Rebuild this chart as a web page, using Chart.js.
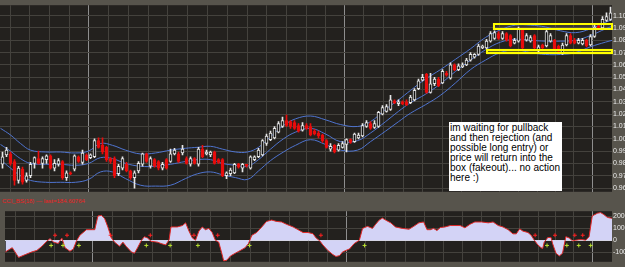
<!DOCTYPE html>
<html><head><meta charset="utf-8">
<script src="https://cdn.jsdelivr.net/npm/chart.js@4.4.1/dist/chart.umd.min.js"></script>
<style>
html,body{margin:0;padding:0;background:#57544c;width:625px;height:267px;overflow:hidden;position:relative;}
#c1{position:absolute;left:0;top:0;}
#c2{position:absolute;left:0;top:206px;}
#sepLabel{position:absolute;left:2px;top:197px;height:9px;font:6px 'Liberation Sans',Arial,sans-serif;color:#ee2222;line-height:9px;white-space:nowrap;}
#note{position:absolute;left:449px;top:122px;width:113px;height:69px;box-sizing:border-box;background:#fff;color:#000;font:10px 'Liberation Sans',Arial,sans-serif;line-height:10px;padding:1px 0 0 1px;white-space:pre;overflow:hidden;}
</style></head>
<body>
<canvas id="c1" width="625" height="197"></canvas>
<div id="sepLabel">CCI_BS(18) — last=184.60764</div>
<canvas id="c2" width="625" height="61"></canvas>
<div id="note">im waiting for pullback
and then rejection (and
possible long entry) or
price will return into the
box (fakeout)... no action
here :)</div>
<script>
// ---- price candles (bar index 0..152) ----
const open = [0.9793,0.9870,0.9877,0.9816,0.9662,0.9754,0.9662,0.9700,0.9800,0.9839,
0.9800,0.9831,0.9862,0.9762,0.9793,0.9816,0.9685,0.9723,0.9754,0.9854,
0.9808,0.9870,0.9847,0.9854,0.9985,0.9947,0.9931,0.9839,0.9839,0.9716,
0.9762,0.9793,0.9739,0.9685,0.9739,0.9793,0.9877,0.9777,0.9831,0.9816,
0.9762,0.9831,0.9816,0.9877,0.9877,0.9885,0.9839,0.9793,0.9839,0.9793,
0.9916,0.9877,0.9870,0.9893,0.9831,0.9831,0.9700,0.9716,0.9723,0.9793,
0.9762,0.9793,0.9762,0.9831,0.9854,0.9870,0.9962,0.9993,1.0008,1.0054,
1.0100,1.0147,1.0139,1.0131,1.0108,1.0070,1.0108,1.0100,1.0062,1.0047,
1.0031,0.9985,0.9916,0.9947,0.9908,0.9931,0.9954,0.9993,0.9977,1.0008,
1.0023,1.0100,1.0124,1.0093,1.0100,1.0200,1.0223,1.0239,1.0308,1.0285,
1.0300,1.0300,1.0293,1.0316,1.0408,1.0477,1.0523,1.0377,1.0447,1.0485,
1.0454,1.0531,1.0493,1.0600,1.0562,1.0585,1.0600,1.0639,1.0662,1.0685,
1.0739,1.0739,1.0793,1.0816,1.0854,1.0816,1.0854,1.0839,1.0777,1.0793,
1.0893,1.0800,1.0793,1.0839,1.0716,1.0762,1.0754,1.0793,1.0800,1.0754,
1.0700,1.0762,1.0839,1.0800,1.0777,1.0770,1.0800,1.0762,1.0831,1.0916,
1.0900,1.0962,1.0970];
const high = [0.9893,0.9931,0.9893,0.9831,0.9777,0.9770,0.9723,0.9808,0.9854,0.9900,
0.9854,0.9870,0.9870,0.9831,0.9839,0.9823,0.9739,0.9731,0.9870,0.9862,
0.9908,0.9877,0.9877,1.0000,1.0008,1.0008,0.9939,0.9847,0.9854,0.9793,
0.9854,0.9808,0.9747,0.9739,0.9816,0.9885,0.9885,0.9854,0.9839,0.9823,
0.9808,0.9839,0.9916,0.9923,0.9893,0.9947,0.9854,0.9854,0.9847,0.9931,
0.9947,0.9908,0.9900,0.9900,0.9839,0.9839,0.9731,0.9762,0.9800,0.9800,
0.9800,0.9793,0.9862,0.9862,0.9923,0.9993,1.0039,1.0062,1.0100,1.0139,
1.0177,1.0193,1.0147,1.0147,1.0124,1.0131,1.0124,1.0124,1.0077,1.0062,
1.0039,0.9993,0.9962,0.9954,0.9962,0.9977,1.0000,1.0000,1.0047,1.0047,
1.0124,1.0147,1.0139,1.0147,1.0223,1.0270,1.0277,1.0354,1.0316,1.0316,
1.0308,1.0316,1.0354,1.0408,1.0485,1.0523,1.0531,1.0531,1.0500,1.0500,
1.0562,1.0547,1.0616,1.0608,1.0608,1.0616,1.0654,1.0700,1.0693,1.0770,
1.0762,1.0808,1.0870,1.0877,1.0870,1.0870,1.0862,1.0847,1.0816,1.0908,
1.0900,1.0854,1.0839,1.0847,1.0762,1.0770,1.0885,1.0854,1.0808,1.0762,
1.0777,1.0854,1.0854,1.0816,1.0816,1.0816,1.0808,1.0847,1.0923,1.0931,
1.0993,1.1023,1.1070];
const low = [0.9762,0.9854,0.9785,0.9623,0.9639,0.9631,0.9647,0.9685,0.9762,0.9793,
0.9762,0.9800,0.9754,0.9739,0.9777,0.9670,0.9662,0.9708,0.9739,0.9808,
0.9793,0.9823,0.9839,0.9847,0.9923,0.9877,0.9816,0.9800,0.9685,0.9700,
0.9747,0.9731,0.9670,0.9600,0.9723,0.9777,0.9808,0.9762,0.9770,0.9747,
0.9747,0.9754,0.9808,0.9870,0.9808,0.9870,0.9793,0.9777,0.9793,0.9777,
0.9847,0.9870,0.9854,0.9793,0.9800,0.9693,0.9677,0.9700,0.9716,0.9762,
0.9731,0.9770,0.9754,0.9823,0.9847,0.9862,0.9947,0.9985,1.0000,1.0047,
1.0093,1.0100,1.0085,1.0077,1.0054,1.0062,1.0077,1.0023,1.0031,1.0008,
0.9970,0.9923,0.9900,0.9885,0.9900,0.9923,0.9893,0.9962,0.9970,1.0000,
1.0016,1.0093,1.0077,1.0085,1.0093,1.0193,1.0216,1.0231,1.0285,1.0270,
1.0277,1.0270,1.0285,1.0308,1.0400,1.0470,1.0370,1.0370,1.0431,1.0423,
1.0447,1.0508,1.0485,1.0554,1.0554,1.0577,1.0593,1.0631,1.0654,1.0677,
1.0731,1.0731,1.0785,1.0808,1.0808,1.0808,1.0793,1.0747,1.0770,1.0785,
1.0731,1.0793,1.0785,1.0731,1.0700,1.0731,1.0747,1.0785,1.0716,1.0700,
1.0685,1.0754,1.0770,1.0770,1.0770,1.0762,1.0747,1.0754,1.0823,1.0885,
1.0893,1.0954,1.0962];
const close = [0.9854,0.9908,0.9800,0.9662,0.9762,0.9647,0.9700,0.9793,0.9847,0.9800,
0.9839,0.9862,0.9762,0.9800,0.9823,0.9685,0.9723,0.9716,0.9862,0.9816,
0.9885,0.9831,0.9870,0.9985,0.9931,0.9893,0.9831,0.9816,0.9700,0.9777,
0.9839,0.9739,0.9685,0.9723,0.9800,0.9877,0.9816,0.9839,0.9777,0.9762,
0.9793,0.9762,0.9877,0.9908,0.9816,0.9916,0.9800,0.9839,0.9800,0.9916,
0.9854,0.9893,0.9893,0.9800,0.9808,0.9700,0.9723,0.9747,0.9793,0.9770,
0.9793,0.9777,0.9854,0.9854,0.9908,0.9985,1.0023,1.0047,1.0085,1.0124,
1.0147,1.0108,1.0100,1.0085,1.0062,1.0108,1.0085,1.0031,1.0039,1.0023,
0.9985,0.9931,0.9939,0.9893,0.9947,0.9962,0.9993,0.9970,1.0039,1.0031,
1.0108,1.0131,1.0085,1.0124,1.0216,1.0254,1.0262,1.0316,1.0293,1.0300,
1.0285,1.0277,1.0339,1.0393,1.0470,1.0500,1.0377,1.0447,1.0485,1.0431,
1.0547,1.0516,1.0600,1.0562,1.0593,1.0600,1.0639,1.0685,1.0685,1.0754,
1.0754,1.0793,1.0854,1.0862,1.0816,1.0854,1.0800,1.0754,1.0800,1.0893,
1.0739,1.0839,1.0823,1.0739,1.0747,1.0739,1.0870,1.0839,1.0723,1.0716,
1.0762,1.0839,1.0777,1.0777,1.0800,1.0800,1.0754,1.0831,1.0908,1.0893,
1.0970,1.0993,1.1023];

// ---- channel lines (read at sample bar positions) ----
const bandX = [-0.5,2,4.5,7,10.75,14.5,18.25,21.5,24.5,27.5,30.75,34.5,38.25,42,45.75,48.75,52,55,58.25,61.25,64,67,70.25,73.25,77,80.75,84.5,88.75,92,95.75,99,102,105.75,109.5,113.25,117,120.75,124.5,128.25,132,135.75,139.5,143.25,147,150.75,152.5];
const bandUpper = [1.0085,1.0031,0.9962,0.9908,0.9893,0.9893,0.9885,0.9900,0.9962,0.9947,0.9908,0.9877,0.9885,0.9908,0.9923,0.9931,0.9939,0.9916,0.9893,0.9893,0.9931,1.0016,1.0108,1.0162,1.0185,1.0154,1.0116,1.0100,1.0139,1.0239,1.0316,1.0393,1.0485,1.0562,1.0646,1.0731,1.0823,1.0885,1.0923,1.0923,1.0908,1.0877,1.0862,1.0893,1.0946,1.0970];
const bandMiddle = [0.9954,0.9900,0.9839,0.9800,0.9793,0.9793,0.9785,0.9800,0.9847,0.9839,0.9800,0.9777,0.9777,0.9793,0.9816,0.9831,0.9831,0.9800,0.9785,0.9777,0.9831,0.9916,1.0000,1.0054,1.0085,1.0039,0.9977,0.9985,1.0047,1.0139,1.0223,1.0293,1.0362,1.0447,1.0547,1.0639,1.0723,1.0785,1.0808,1.0800,1.0793,1.0793,1.0800,1.0839,1.0893,1.0916];
const bandLower = [0.9831,0.9762,0.9700,0.9662,0.9647,0.9647,0.9647,0.9670,0.9731,0.9731,0.9677,0.9623,0.9616,0.9623,0.9677,0.9716,0.9731,0.9708,0.9685,0.9670,0.9739,0.9823,0.9893,0.9947,0.9993,0.9954,0.9908,0.9908,0.9977,1.0062,1.0139,1.0208,1.0277,1.0354,1.0454,1.0562,1.0639,1.0700,1.0723,1.0700,1.0685,1.0685,1.0700,1.0747,1.0785,1.0800];

// ---- marked range boxes (bar index / price) ----
const boxX0 = [122.5, 121];
const boxX1 = [152.5, 152.5];
const boxTop = [1.0939, 1.0731];
const boxBottom = [1.0885, 1.0685];

// ---- CCI indicator (read at sample bar positions) ----
const cciX = [-0.5,1.2,2.8,4.5,6.2,7.4,8.7,9.9,10.75,11.6,12.8,13.7,14.5,15.75,16.6,17.4,18.25,19.9,21.2,22,22.8,23.7,24.5,25.3,26.2,27,28.25,29.1,29.9,31.2,32,32.8,33.7,34.5,35.3,36.2,37.8,38.7,39.9,40.75,41.2,42.8,44.1,44.9,45.75,46.6,47.4,48.25,49.1,49.9,50.75,51.6,52.4,53.25,54.1,54.5,55.3,56.2,57.4,58.7,59.9,60.75,61.6,62.8,64.1,65.3,66.6,67.8,69.1,70.3,72,73.25,74.5,75.75,77,77.8,78.7,79.5,80.75,82,82.8,83.7,84.5,85.3,86.2,87.4,88.7,89.5,90.75,92,92.8,93.7,94.5,95.3,96.6,97.8,99.5,101.2,102.4,103.7,104.9,105.75,106.6,107.4,108.25,109.1,110.3,111.6,112.8,114.1,115.3,116.6,117.8,119.5,121.2,122.4,123.7,124.9,126.2,127.4,128.25,129.1,129.9,131.2,132,132.8,133.7,134.5,134.9,135.3,136.2,137,137.4,138.25,139.1,139.9,140.75,141.6,142.4,143.25,144.1,144.9,145.75,146.6,147.4,148.7,149.5,150.3,151.2,152,152.4];
const cciValue = [-98,-63,-145,-121,-98,-86,-51,-9,14,-16,-28,19,-63,-93,-74,-5,42,89,89,89,205,210,182,112,19,-16,-51,-16,-51,-98,-110,-63,-5,30,19,-9,-16,-28,-40,5,112,112,124,147,77,19,0,77,112,89,100,65,0,-16,-121,-175,-168,-133,-110,-86,-63,-28,42,65,112,159,170,159,154,135,112,89,65,65,55,19,-5,-40,-86,-121,-137,-130,-98,-86,-74,-28,0,100,117,100,135,170,187,170,147,112,100,93,117,147,154,89,89,100,82,107,112,124,124,124,105,135,154,154,147,154,124,112,89,54,54,96,77,65,42,0,-40,-63,-70,-16,23,23,-28,-110,-133,-110,30,19,-5,0,5,5,0,30,205,228,233,217,193,187,185];
const signalRedX = [12,15,26,36,47,53,79,133,138,143,145];
const signalRedLevel = 42;
const signalGreenX = [11,14,18,35,41,48,61,90,136,141,144,147];
const signalGreenLevel = -44;

// ---- axis ticks ----
const priceTicks = [0.96,0.97,0.98,0.99,1.00,1.01,1.02,1.03,1.04,1.05,1.06,1.07,1.08,1.09,1.10];
const priceTickLabels = ['0.96','0.97','0.98','0.99','1.00','1.01','1.02','1.03','1.04','1.05','1.06','1.07','1.08','1.09','1.10'];
const cciTicks = [-100,0,100,200];
const cciTickLabels = ['-100','0','100','200'];
const timeGridX = [2,6.75,11.75,16.75,21.5,26.5,31.5,36.5,41.25,46.25,51.25,56.25,61.25,66,71,76,80.75,85.5,90.25,95.25,100.25,105,110,114.75,119.5,124.25,129,133.75,138.25,142.75,147.5];
const timeSeparatorX = [21.5,85.5,147.5];

// ---- layout constants ----
const X_MIN = -0.625, X_MAX = 152.375;
const PRICE_MIN = 0.95696, PRICE_MAX = 1.1085;
const CCI_MIN = -182, CCI_MAX = 245;
const BG = '#23211e', GRID = '#44423d', BRIGHT = '#8e8e8e';
const UP = '#e6e6e6', DOWN = '#e80c0c';

const bgPlugin = {id:'bg', beforeDraw(chart){const {ctx, chartArea:a}=chart; ctx.save(); ctx.fillStyle=BG; ctx.fillRect(a.left,a.top,a.right-a.left,a.bottom-a.top); ctx.restore();}};
const boxFills = ['rgba(140,140,120,0.22)','rgba(190,190,40,0.38)'];
const boxPlugin = {id:'boxes',
  beforeDatasetsDraw(chart){ const {ctx}=chart; const xs=chart.scales.x, ys=chart.scales.y;
    ctx.save();
    boxX0.forEach((x0,i)=>{ const l=xs.getPixelForValue(x0), r=xs.getPixelForValue(boxX1[i]);
      const t=ys.getPixelForValue(boxTop[i]), b=ys.getPixelForValue(boxBottom[i]);
      ctx.fillStyle=boxFills[i]; ctx.fillRect(l,t,r-l,b-t); });
    ctx.restore(); },
  afterDatasetsDraw(chart){ const {ctx}=chart; const xs=chart.scales.x, ys=chart.scales.y;
    ctx.save(); ctx.strokeStyle='#ffff00'; ctx.lineWidth=2;
    boxX0.forEach((x0,i)=>{ const l=Math.round(xs.getPixelForValue(x0)), r=Math.round(xs.getPixelForValue(boxX1[i]));
      const t=Math.round(ys.getPixelForValue(boxTop[i])), b=Math.round(ys.getPixelForValue(boxBottom[i]));
      ctx.strokeRect(l+1,t+1,r-l-2,b-t-2); });
    ctx.restore(); }
};

function xScale(){
  return {type:'linear', min:X_MIN, max:X_MAX, offset:false, bounds:'ticks',
    grid:{color:(c)=> (c.tick && timeSeparatorX.includes(c.tick.value)) ? BRIGHT : GRID, drawTicks:false, lineWidth:1, offset:false},
    border:{display:false}, ticks:{display:false},
    afterBuildTicks:(s)=>{ s.ticks = timeGridX.map(v=>({value:v})); },
    afterFit:(s)=>{ s.height = 0; }};
}

const bars = open.map((_, i) => i);
const up = bars.map(i => close[i] >= open[i]);

new Chart(document.getElementById('c1'), {
  type:'bar',
  data:{datasets:[
    {type:'line', data: bandX.map((x,i)=>({x, y: bandUpper[i]})), borderColor:'#4f74cf', borderWidth:1, pointRadius:0, tension:0.4, order:3},
    {type:'line', data: bandX.map((x,i)=>({x, y: bandMiddle[i]})), borderColor:'#4f74cf', borderWidth:1, pointRadius:0, tension:0.4, order:3},
    {type:'line', data: bandX.map((x,i)=>({x, y: bandLower[i]})), borderColor:'#4f74cf', borderWidth:1, pointRadius:0, tension:0.4, order:3},
    {type:'bar', data: bars.map(i=>({x:i, y:[low[i], high[i]]})), backgroundColor: bars.map(i=> up[i]?UP:DOWN), barThickness:1, grouped:false, order:2},
    {type:'bar', data: bars.map(i=>({x:i, y:[open[i], close[i]]})), backgroundColor: bars.map(i=> up[i]?'#111111':DOWN),
      borderColor: bars.map(i=> up[i]?UP:DOWN), borderWidth:1, borderSkipped:false, barThickness:3, grouped:false, order:1}
  ]},
  options:{responsive:false, animation:false, events:[], layout:{padding:0},
    plugins:{legend:{display:false}, tooltip:{enabled:false}},
    scales:{
      x: xScale(),
      y:{position:'right', min:PRICE_MIN, max:PRICE_MAX,
        grid:{color:GRID, drawTicks:false}, border:{display:false},
        ticks:{color:'#ececec', font:{size:7, family:'Liberation Sans'}, padding:1, autoSkip:false, callback:(v,i)=>priceTickLabels[i]},
        afterBuildTicks:(s)=>{ s.ticks = priceTicks.map(v=>({value:v})); },
        afterFit:(s)=>{ s.width = 13; }}
    }},
  plugins:[bgPlugin, boxPlugin]
});

new Chart(document.getElementById('c2'), {
  type:'line',
  data:{datasets:[
    {data: cciX.map((x,i)=>({x, y: cciValue[i]})), borderColor:'#e02828', borderWidth:1, pointRadius:0, tension:0,
      fill:'origin', backgroundColor:'#d3d3f6', order:2},
    {data: signalRedX.map(x=>({x, y: signalRedLevel})), showLine:false, pointStyle:'cross', pointRadius:2, pointBorderWidth:1, pointBorderColor:'#ff2020', order:1},
    {data: signalGreenX.map(x=>({x, y: signalGreenLevel})), showLine:false, pointStyle:'cross', pointRadius:2, pointBorderWidth:1, pointBorderColor:'#b8e030', order:1}
  ]},
  options:{responsive:false, animation:false, events:[], layout:{padding:0},
    plugins:{legend:{display:false}, tooltip:{enabled:false}},
    scales:{
      x: xScale(),
      y:{position:'right', min:CCI_MIN, max:CCI_MAX,
        grid:{color:(c)=> (c.tick && c.tick.value===0) ? '#d6d6de' : GRID, drawTicks:false}, border:{display:false},
        ticks:{color:'#ececec', font:{size:7, family:'Liberation Sans'}, padding:1, autoSkip:false, callback:(v,i)=>cciTickLabels[i]},
        afterBuildTicks:(s)=>{ s.ticks = cciTicks.map(v=>({value:v})); },
        afterFit:(s)=>{ s.width = 13; }}
    }},
  plugins:[bgPlugin]
});
</script>
</body></html>
